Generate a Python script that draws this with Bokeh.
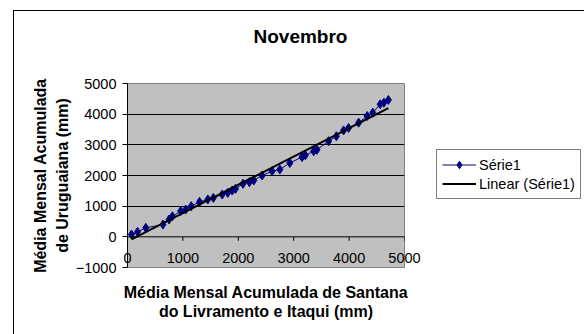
import numpy as np
from bokeh.plotting import figure
from bokeh.layouts import row
from bokeh.models import FixedTicker, Span, Legend, LegendItem, Range1d
from bokeh.embed import file_html
from bokeh.resources import INLINE

# Accumulated monthly means (mm), November
santana_itaqui = [72, 180, 330, 640, 750, 810, 960, 1050, 1150, 1300, 1450, 1550,
                  1710, 1810, 1890, 1950, 2085, 2200, 2280, 2430, 2610, 2750, 2930,
                  3150, 3210, 3360, 3420, 3630, 3770, 3900, 3990, 4172, 4326, 4427,
                  4561, 4628, 4709]
uruguaiana = [76, 163, 293, 400, 565, 670, 840, 890, 1000, 1140, 1220, 1270,
              1380, 1435, 1510, 1565, 1730, 1780, 1840, 2000, 2140, 2195, 2410,
              2600, 2660, 2790, 2840, 3120, 3280, 3470, 3550, 3723, 3941, 4050,
              4322, 4376, 4463]
x_ticks = [0, 1000, 2000, 3000, 4000, 5000]
y_ticks = [-1000, 0, 1000, 2000, 3000, 4000, 5000]
grid_ticks = [1000, 2000, 3000, 4000]

FONT = "Liberation Sans"
NAVY = "#000080"

p = figure(width=421, height=323, output_backend="svg", toolbar_location=None,
           x_range=Range1d(0, 5000), y_range=Range1d(-1000, 5000),
           min_border_left=113, min_border_right=31,
           min_border_top=72, min_border_bottom=67)

p.background_fill_color = "#C0C0C0"
p.border_fill_color = "white"
p.outline_line_color = "#808080"

# title (the empty second line lifts it away from the plot area)
p.title.text = "Novembro\n "
p.title.align = "left"
p.title.offset = 126
p.title.standoff = 8
p.title.text_line_height = 1.55
p.title.text_color = "black"
p.title.text_font = FONT
p.title.text_font_size = "19px"
p.title.text_font_style = "bold"

# horizontal axis: labels sit inside the bottom band of the plot area
xa = p.xaxis[0]
xa.ticker = FixedTicker(ticks=x_ticks)
xa.axis_line_color = None
xa.major_tick_line_color = None
xa.minor_tick_line_color = None
xa.major_tick_out = 0
xa.major_tick_in = 0
xa.major_label_standoff = -15
xa.major_label_text_font = FONT
xa.major_label_text_font_size = "14.5px"
xa.major_label_text_color = "black"
xa.axis_label = "Média Mensal Acumulada de Santana\ndo Livramento e Itaqui (mm)"
xa.axis_label_standoff = 18
xa.axis_label_text_font = FONT
xa.axis_label_text_font_size = "16px"
xa.axis_label_text_font_style = "bold"
xa.axis_label_text_color = "black"
xa.axis_label_text_line_height = 1.15

ya = p.yaxis[0]
ya.ticker = FixedTicker(ticks=y_ticks)
ya.axis_line_color = "black"
ya.major_tick_line_color = "black"
ya.minor_tick_line_color = None
ya.major_tick_out = 5
ya.major_tick_in = 0
ya.major_label_standoff = 6
ya.major_label_text_font = FONT
ya.major_label_text_font_size = "14.5px"
ya.major_label_text_color = "black"
ya.axis_label = "Média Mensal Acumulada\nde Uruguaiana (mm)"
ya.axis_label_standoff = 2
ya.axis_label_text_font = FONT
ya.axis_label_text_font_size = "16px"
ya.axis_label_text_font_style = "bold"
ya.axis_label_text_color = "black"
ya.axis_label_text_line_height = 1.3

p.xgrid.visible = False
p.ygrid.ticker = FixedTicker(ticks=grid_ticks)
p.ygrid.grid_line_color = "black"
p.ygrid.grid_line_width = 1

# zero line acting as the horizontal axis, with its tick marks
p.add_layout(Span(location=0, dimension="width", line_color="black", line_width=1))
tick_len = 130
p.segment(x0=x_ticks, y0=[0] * len(x_ticks), x1=x_ticks, y1=[-tick_len] * len(x_ticks),
          line_color="black", line_width=1)

# series
ln = p.line(santana_itaqui, uruguaiana, line_color=NAVY, line_width=1)
sc = p.scatter(santana_itaqui, uruguaiana, marker="diamond", size=9,
               fill_color=NAVY, line_color=NAVY)

# linear trend fitted to the series
slope, intercept = np.polyfit(santana_itaqui, uruguaiana, 1)
tx = [min(santana_itaqui), max(santana_itaqui)]
ty = [slope * v + intercept for v in tx]
trend = p.line(tx, ty, line_color="black", line_width=2)

# side panel holding the legend; its renderers carry the same data but stay hidden
lp = figure(width=149, height=323, output_backend="svg", toolbar_location=None,
            x_range=Range1d(0, 5000), y_range=Range1d(-1000, 5000), min_border=0)
lp.axis.visible = False
lp.grid.visible = False
lp.outline_line_color = None
lp.background_fill_color = "white"
lp.border_fill_color = "white"
k_ln = lp.line(santana_itaqui, uruguaiana, line_color=NAVY, line_width=1, visible=False)
k_sc = lp.scatter(santana_itaqui, uruguaiana, marker="diamond", size=9,
                  fill_color=NAVY, line_color=NAVY, visible=False)
k_tr = lp.line(tx, ty, line_color="black", line_width=2, visible=False)

legend = Legend(items=[LegendItem(label="Série1", renderers=[k_ln, k_sc]),
                       LegendItem(label="Linear (Série1)", renderers=[k_tr])],
                location=(1, 68))
legend.border_line_color = "black"
legend.border_line_width = 1
legend.background_fill_color = "white"
legend.background_fill_alpha = 1
legend.label_text_font = FONT
legend.label_text_font_size = "14.5px"
legend.label_text_color = "black"
legend.glyph_width = 34
legend.glyph_height = 19
legend.label_height = 19
legend.label_standoff = 3
legend.padding = 5
legend.spacing = 0
legend.margin = 0
lp.add_layout(legend)

chart = row(p, lp, spacing=0)
chart.margin = (10, 0, 0, 13)
chart.styles = {"border-left": "1px solid black", "border-top": "1px solid black"}

open("out.html", "w").write(file_html(chart, INLINE))
